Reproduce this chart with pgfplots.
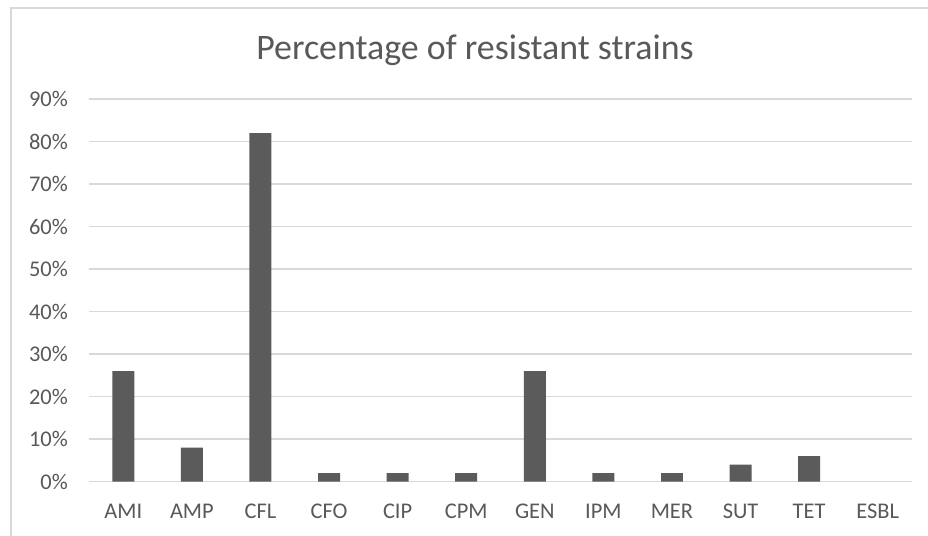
\documentclass[border=0pt]{standalone}
\usepackage{fontspec}
\setmainfont{Carlito}
\usepackage{pgfplots}
\pgfplotsset{compat=1.18}
\definecolor{bargray}{HTML}{5B5B5B}
\definecolor{txtgray}{HTML}{595959}
\definecolor{gridgray}{HTML}{D9D9D9}
\begin{document}
\begin{tikzpicture}[x=1bp,y=1bp]
\path[use as bounding box] (0,0) rectangle (928,536);
\fill[white] (0,0) rectangle (928,536);
\draw[gridgray, line width=2bp] (11,-5) -- (11,528) -- (935,528);
\begin{axis}[
  at={(89bp,54.3bp)}, anchor=south west,
  scale only axis, width=823bp, height=382.5bp,
  xmin=-0.5, xmax=11.5, ymin=0, ymax=90,
  axis line style={draw=none},
  major tick length=0pt,
  ymajorgrids, major grid style={color=gridgray, line width=1.4bp},
  ytick={0,10,...,90},
  yticklabels={0\%,10\%,20\%,30\%,40\%,50\%,60\%,70\%,80\%,90\%},
  xtick={0,...,11},
  xticklabels={AMI,AMP,CFL,CFO,CIP,CPM,GEN,IPM,MER,SUT,TET,ESBL},
  tick label style={font=\fontsize{22.5}{27}\selectfont, text=txtgray, inner sep=0pt},
  yticklabel style={anchor=east, xshift=-21bp},
  xticklabel style={anchor=base, yshift=-36.6bp},
  clip=false,
]
\addplot[ybar, bar width=0.32, fill=bargray, draw=none] coordinates {
(0,26) (1,8) (2,82) (3,2) (4,2) (5,2) (6,26) (7,2) (8,2) (9,4) (10,6)
};
\end{axis}
\node[anchor=base, text=txtgray, font=\fontsize{36}{43}\selectfont, inner sep=0pt] at (475,476) {Percentage of resistant strains};
\end{tikzpicture}
\end{document}
